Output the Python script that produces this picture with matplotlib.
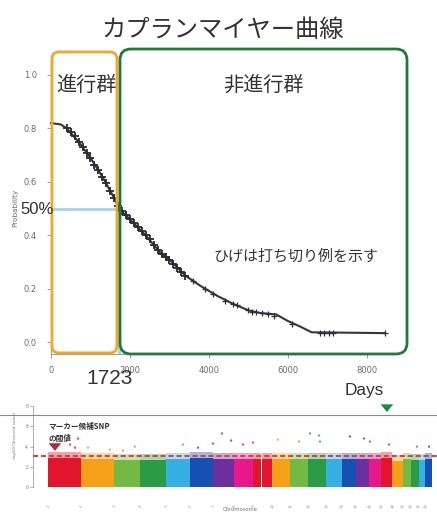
import matplotlib
matplotlib.use("Agg")
import matplotlib.pyplot as plt
from matplotlib.patches import FancyBboxPatch
import numpy as np

plt.rcParams['font.family'] = ['Liberation Sans', 'Noto Sans CJK JP', 'DejaVu Sans']
JP = ['Noto Sans CJK JP', 'DejaVu Sans']

# Kaplan-Meier curve (days, survival probability)
km_days = [0, 250, 400, 700, 1000, 1300, 1600, 1723, 2000, 2400, 2800, 3000,
           3400, 3800, 4200, 4600, 5000, 5300, 5700, 6000, 6300, 6600, 8450]
km_prob = [0.82, 0.815, 0.80, 0.75, 0.69, 0.62, 0.54, 0.50, 0.46, 0.40, 0.33,
           0.31, 0.25, 0.21, 0.175, 0.145, 0.12, 0.11, 0.105, 0.08, 0.06,
           0.038, 0.035]
censor_days = [400, 500, 600, 700, 800, 900, 1000, 1100, 1200, 1300, 1400,
               1500, 1600, 1700, 1800, 1900, 2000, 2100, 2200, 2300, 2400,
               2500, 2600, 2700, 2800, 2900, 3000, 3100, 3200, 3300, 3400,
               3600, 3900, 4100, 4400, 4600, 4700, 5000, 5100, 5200, 5350,
               5500, 5650, 6100, 6800, 6900, 7050, 7150, 8450]
censor_prob = [0.80, 0.785, 0.77, 0.75, 0.73, 0.71, 0.69, 0.665, 0.645, 0.62,
               0.595, 0.565, 0.54, 0.51, 0.49, 0.475, 0.46, 0.445, 0.43,
               0.415, 0.40, 0.385, 0.365, 0.345, 0.33, 0.32, 0.31, 0.295,
               0.28, 0.265, 0.25, 0.23, 0.20, 0.18, 0.155, 0.145, 0.14, 0.12,
               0.115, 0.115, 0.11, 0.108, 0.10, 0.07, 0.035, 0.035, 0.035,
               0.035, 0.035]
median_days = 1723
median_prob = 0.5
km_xticks = [0, 2000, 4000, 6000, 8000]
km_yticks = [0.0, 0.2, 0.4, 0.6, 0.8, 1.0]

# Manhattan plot: chromosome lengths (Mb), block heights, standout SNPs
chrom_names = [str(i) for i in range(1, 23)]
chrom_len = [249, 243, 198, 191, 181, 171, 159, 146, 141, 135, 135, 133,
             115, 107, 102, 90, 81, 78, 59, 63, 48, 51]
chrom_top = [2.9, 2.8, 2.7, 2.7, 2.8, 2.9, 2.8, 2.8, 2.8, 2.8, 2.8, 2.8,
             2.8, 2.8, 2.8, 2.8, 2.9, 2.6, 2.8, 2.7, 2.7, 2.8]
gap_pos = [135, 1600]
peak_pos = [165, 202, 225, 300, 464, 561, 650, 1010, 1123, 1235, 1302, 1370,
            1460, 1534, 1722, 1879, 1961, 2028, 2036, 2260, 2365, 2410,
            2552, 2762, 2852]
peak_val = [4.2, 3.9, 4.8, 3.9, 3.7, 3.6, 4.0, 4.2, 3.9, 4.3, 5.3, 4.6,
            4.2, 4.4, 4.7, 4.5, 5.3, 5.1, 4.5, 5.0, 4.8, 4.5, 4.2, 4.0, 4.0]
palette = ['#e3142d', '#f6a01a', '#74b943', '#2a9a45',
           '#35b0e0', '#1650b5', '#6b2f9e', '#e6188a']
snp_threshold = 3.1
genome_line = 7.1

W, H = 437, 517


def rect(left, top, right, bottom):
    # pixel box -> figure fraction
    return [left / W, 1 - bottom / H, (right - left) / W, (bottom - top) / H]


fig = plt.figure(figsize=(W / 100, H / 100), dpi=100)

# ---- Kaplan-Meier panel ----
ax = fig.add_axes(rect(40, 45, 415, 362))
ax.set_xlim(-278, 9215)
ax.set_ylim(-0.073, 1.112)
ax.set_facecolor('none')
for side in ['top', 'right']:
    ax.spines[side].set_visible(False)
ax.spines['left'].set_position(('data', 0))
ax.spines['left'].set_bounds(-0.043, 1.0)
ax.spines['bottom'].set_position(('data', -0.043))
ax.spines['bottom'].set_bounds(0, 8000)
for side in ['left', 'bottom']:
    ax.spines[side].set_color('#8c8c8c')
    ax.spines[side].set_linewidth(0.6)
ax.set_xticks(km_xticks)
ax.set_yticks(km_yticks)
ax.set_yticklabels(['%.1f' % v for v in km_yticks])
ax.tick_params(axis='both', length=3, width=0.6, color='#8c8c8c',
               labelsize=6, labelcolor='#6a6a6a')
ax.tick_params(axis='y', pad=7)
ax.tick_params(axis='x', pad=6)
for lab in ax.get_xticklabels() + ax.get_yticklabels():
    lab.set_fontfamily('DejaVu Sans')

# median guide lines
ax.plot([0, median_days], [median_prob, median_prob], color='#a9d9e6',
        lw=2.2, solid_capstyle='butt', zorder=1)
ax.plot([median_days, median_days], [median_prob, -0.043], color='#a9d9e6',
        lw=2.2, solid_capstyle='butt', zorder=1)

ax.plot(km_days, km_prob, color='#35353f', lw=1.5, zorder=3)
ax.plot(censor_days[:31], censor_prob[:31], ls='none', marker='+', ms=5.5,
        mew=1.3, color='#2a2a34', zorder=4)
ax.plot(censor_days[31:], censor_prob[31:], ls='none', marker='+', ms=4,
        mew=0.9, color='#2f2f3a', zorder=4)

# ---- Manhattan panel ----
ax2 = fig.add_axes(rect(0, 398, 437, 517))
ax2.set_xlim(-359.3, 2911.7)
ax2.set_ylim(-2.97, 8.81)
ax2.set_facecolor('none')
for side in ['top', 'right', 'bottom']:
    ax2.spines[side].set_visible(False)
ax2.spines['left'].set_position(('data', -112))
ax2.spines['left'].set_bounds(0, 8)
ax2.spines['left'].set_color('#8c8c8c')
ax2.spines['left'].set_linewidth(0.5)
ax2.set_xticks([])
ax2.set_yticks([0, 2, 4, 6, 8])
ax2.tick_params(axis='y', length=2, width=0.5, color='#8c8c8c', pad=1.5,
                labelsize=3.5, labelcolor='#777777')

starts = np.concatenate([[0], np.cumsum(chrom_len)[:-1]])
colors = [palette[i % len(palette)] for i in range(len(chrom_len))]
ax2.bar(starts, chrom_top, width=chrom_len, align='edge', color=colors,
        linewidth=0, zorder=2)
ax2.bar(starts, 0.6, bottom=chrom_top, width=chrom_len, align='edge',
        color=colors, alpha=0.4, linewidth=0, zorder=2)
ax2.bar(gap_pos, 3.6, width=6, color='white', linewidth=0, zorder=2.5)
peak_chrom = np.searchsorted(starts, peak_pos, side='right') - 1
ax2.scatter(peak_pos, peak_val, s=3, c=[colors[i] for i in peak_chrom],
            alpha=0.75, linewidths=0, zorder=3)

ax2.axhline(genome_line, color='#8a8a8a', lw=0.8, zorder=1)
ax2.hlines(snp_threshold, -112, 2912, colors='#e23a3a', lw=1.4,
           linestyles=(0, (2.6, 1.5)), zorder=4)

for s, name in zip(starts, chrom_names):
    ax2.text(s + 4, -1.9, name, fontsize=3, rotation=60, color='#9a9a9a',
             ha='center', va='center', family='DejaVu Sans')
ax2.text(1437, -2.2, 'Chromosome', fontsize=3.8, color='#777777',
         ha='center', va='center', family='DejaVu Sans')
ax2.text(-247, 5.1, '-log10(Observed value)', fontsize=3, color='#777777',
         rotation=90, ha='center', va='center', family='DejaVu Sans')
ax2.text(0, 5.4, 'マーカー候補SNP\nの閾値', fontsize=5.5, fontweight='bold',
         color='#333333', ha='left', va='center', linespacing=1.35,
         family=JP, zorder=5)
arrow = 'simple,head_width=0.9,head_length=0.55,tail_width=0.45'
ax2.annotate('', xy=(52, 3.3), xytext=(52, 4.4),
             arrowprops=dict(arrowstyle=arrow, color='#b5283f', lw=0),
             zorder=5)
ax2.annotate('', xy=(2537, 7.15), xytext=(2537, 8.25),
             arrowprops=dict(arrowstyle=arrow, color='#1e8a40', lw=0),
             zorder=5)

# ---- overlay in pixel units for boxes and slide text ----
ov = fig.add_axes([0, 0, 1, 1])
ov.set_xlim(0, W)
ov.set_ylim(H, 0)
ov.axis('off')


def to_px(t, p):
    dx, dy = ax.transData.transform((t, p))
    return dx, H - dy


def group_box(t0, t1, p0, p1, color, radius):
    x0, y0 = to_px(t0, p1)
    x1, y1 = to_px(t1, p0)
    ov.add_patch(FancyBboxPatch((x0, y0), x1 - x0, y1 - y0,
                                boxstyle='round,pad=0,rounding_size=%d' % radius,
                                fill=False, ec=color, lw=2.0))


group_box(25, median_days - 53, -0.039, 1.086, '#f5a52a', 7)
group_box(median_days + 24, 9013, -0.043, 1.097, '#1f7a3a', 11)

ov.text(223, 30, 'カプランマイヤー曲線', fontsize=17.5, color='#333333',
        ha='center', va='center', family=JP)
ov.text(86, 85, '進行群', fontsize=14.5, color='#333333', ha='center',
        va='center', family=JP)
ov.text(263, 85, '非進行群', fontsize=14.5, color='#333333', ha='center',
        va='center', family=JP)
ov.text(296, 257, 'ひげは打ち切り例を示す', fontsize=10.8, color='#333333',
        ha='center', va='center', family=JP)
ov.text(37, 209, '50%', fontsize=12, color='#333333', ha='center',
        va='center')
ov.text(110, 378, str(median_days), fontsize=15, color='#333333',
        ha='center', va='center')
ov.text(364, 391, 'Days', fontsize=12.4, color='#333333', ha='center',
        va='center')
ov.text(15, 208, 'Probability', fontsize=5.2, color='#6a6a6a', rotation=90,
        ha='center', va='center', family='DejaVu Sans')

fig.savefig('out.png', dpi=100)
